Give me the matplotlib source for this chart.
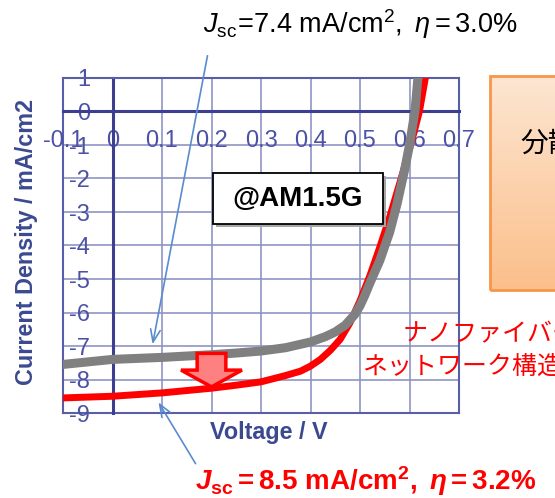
import numpy as np
import matplotlib
matplotlib.use("Agg")
import matplotlib.pyplot as plt
from matplotlib.patches import FancyArrow, Rectangle

# ---- data -------------------------------------------------------------
V_TICKS = [-0.1, 0.0, 0.1, 0.2, 0.3, 0.4, 0.5, 0.6, 0.7]
V_LABELS = ["-0.1", "0", "0.1", "0.2", "0.3", "0.4", "0.5", "0.6", "0.7"]
J_TICKS = [1, 0, -1, -2, -3, -4, -5, -6, -7, -8, -9]
J_LABELS = ["1", "0", "-1", "-2", "-3", "-4", "-5", "-6", "-7", "-8", "-9"]

# nanofiber network electrode (red)
V_NET = [-0.1, 0.0, 0.1, 0.2, 0.25, 0.3, 0.35, 0.38, 0.4, 0.42, 0.44,
         0.46, 0.48, 0.5, 0.52, 0.54, 0.56, 0.575, 0.59, 0.605, 0.62, 0.632]
J_NET = [-8.55, -8.5, -8.4, -8.26, -8.17, -8.07, -7.88, -7.75, -7.6, -7.4,
         -7.13, -6.8, -6.3, -5.65, -4.9, -4.05, -3.15, -2.4, -1.65, -0.85,
         0.0, 1.0]

# dispersed reference electrode (gray)
V_REF = [-0.1, 0.0, 0.1, 0.2, 0.25, 0.3, 0.35, 0.4, 0.43, 0.45, 0.47, 0.49,
         0.5, 0.51, 0.52, 0.54, 0.56, 0.575, 0.59, 0.6, 0.611, 0.617]
J_REF = [-7.55, -7.4, -7.34, -7.26, -7.21, -7.15, -7.05, -6.88, -6.72, -6.58,
         -6.38, -6.05, -5.8, -5.48, -5.12, -4.45, -3.6, -2.75, -1.75, -1.0,
         0.0, 1.0]

JSC_REF, ETA_REF = 7.4, 3.0
JSC_NET, ETA_NET = 8.5, 3.2

# ---- style ------------------------------------------------------------
plt.rcParams["font.family"] = ["Liberation Sans", "Noto Sans CJK JP", "DejaVu Sans"]
plt.rcParams["mathtext.fontset"] = "custom"
plt.rcParams["mathtext.rm"] = "Liberation Sans"
plt.rcParams["mathtext.it"] = "Liberation Sans:italic"
plt.rcParams["mathtext.bf"] = "Liberation Sans:bold"
plt.rcParams["mathtext.bfit"] = "Liberation Sans:italic:bold"

W, H = 555, 498
fig = plt.figure(figsize=(W / 100, H / 100), dpi=100)
fig.patch.set_facecolor("white")


def fx(x):
    return x / W


def fy(y):
    return 1 - y / H


AXIS_C = "#3c3f8f"
FRAME_C = "#5a5ea8"
GRID_C = "#9094c4"
TICK_C = "#4b52a6"
LABEL_C = "#3b4a90"

ax = fig.add_axes([fx(63), fy(413), (459 - 63) / W, (413 - 78) / H])
ax.set_xlim(V_TICKS[0], V_TICKS[-1])
ax.set_ylim(J_TICKS[-1], J_TICKS[0])
ax.set_xticks(V_TICKS)
ax.set_xticklabels(V_LABELS)
ax.set_yticks(J_TICKS)
ax.set_yticklabels(J_LABELS)

# axes cross at the origin, frame on the outside
ax.spines["left"].set_position(("data", 0))
ax.spines["bottom"].set_position(("data", 0))
for s in ("left", "bottom"):
    ax.spines[s].set_linewidth(2.2)
    ax.spines[s].set_color(AXIS_C)
for s in ("top", "right"):
    ax.spines[s].set_linewidth(1.5)
    ax.spines[s].set_color(FRAME_C)
ax.axvline(V_TICKS[0], color=FRAME_C, lw=1.5, clip_on=False, zorder=1.2)
ax.axhline(J_TICKS[-1], color=FRAME_C, lw=1.5, clip_on=False, zorder=1.2)

# grid kept under the tick labels
for v in V_TICKS:
    ax.axvline(v, color=GRID_C, lw=1.2, zorder=0.5)
for j in J_TICKS:
    ax.axhline(j, color=GRID_C, lw=1.2, zorder=0.5)

ax.tick_params(axis="both", length=0, labelsize=17, labelcolor=TICK_C)
ax.tick_params(axis="y", pad=16)
ax.tick_params(axis="x", pad=13.5)

# J-V curves
ax.plot(V_NET, J_NET, color="#ff0000", lw=5, zorder=3,
        solid_joinstyle="round")
ax.plot(V_REF, J_REF, color="#808080", lw=6.5, zorder=4,
        solid_joinstyle="round")

# block arrow: increase of Jsc
ax.add_patch(FancyArrow(0.2, -7.22, 0, -1.0, width=0.058, head_width=0.123,
                        head_length=0.5, length_includes_head=True,
                        facecolor="#ff8080", edgecolor="#ff0000", lw=2.5,
                        zorder=5))

# axis titles
fig.text(fx(269), fy(432), "Voltage / V", ha="center", va="center",
         fontsize=16.8, fontweight="bold", color=LABEL_C)
fig.text(fx(27), fy(242), "Current Density / mA/cm2", ha="center",
         va="center", rotation=90, fontsize=16.8, fontweight="bold",
         color=LABEL_C)

# illumination condition box with shadow
bx0, by0, bx1, by1 = 213, 173, 383, 224
fig.patches.append(Rectangle((fx(bx0 + 3), fy(by1 + 3)), (bx1 - bx0) / W,
                             (by1 - by0) / H, transform=fig.transFigure,
                             facecolor="#a6a6a6", edgecolor="none", zorder=6))
fig.patches.append(Rectangle((fx(bx0), fy(by1)), (bx1 - bx0) / W,
                             (by1 - by0) / H, transform=fig.transFigure,
                             facecolor="white", edgecolor="black", lw=1.3,
                             zorder=7))
fig.text(fx(298), fy(199), "@AM1.5G", ha="center", va="center",
         fontsize=20, fontweight="bold", color="black", zorder=8)

# performance labels with pointers
top_txt = (r"$J_{\mathrm{sc}}\!=\!%.1f\ \mathrm{mA/cm^{2}},\ \eta = %.1f\%%$"
           % (JSC_REF, ETA_REF))
fig.text(fx(203), fy(33), top_txt, ha="left", va="baseline",
         fontsize=19.5, color="black")
bot_txt = (r"$\mathbfit{J}_{\mathbf{sc}}\mathbf{=%.1f\ mA/cm^{2},\ }"
           r"\mathbfit{\eta}\mathbf{=%.1f\%%}$" % (JSC_NET, ETA_NET))
fig.text(fx(195), fy(490), bot_txt, ha="left", va="baseline",
         fontsize=20, color="#ff0000")

ptr = dict(arrowstyle="->,head_length=0.9,head_width=0.35",
           color="#5b8bcf", lw=1.2)
ax.annotate("", xy=(0.08, -7.03), xycoords="data",
            xytext=(fx(208), fy(53)), textcoords="figure fraction",
            arrowprops=ptr, annotation_clip=False, zorder=6)
ax.annotate("", xy=(0.09, -8.61), xycoords="data",
            xytext=(fx(197), fy(466)), textcoords="figure fraction",
            arrowprops=ptr, annotation_clip=False, zorder=6)

# curve caption
fig.text(fx(403), fy(334), "ナノファイバー", ha="left", va="center",
         fontsize=18, color="#ff0000", family=["Noto Sans CJK JP"])
fig.text(fx(362), fy(367), "ネットワーク構造", ha="left", va="center",
         fontsize=18, color="#ff0000", family=["Noto Sans CJK JP"])

# side panel with vertical gradient
pan = fig.add_axes([fx(490), fy(290), 80 / W, (290 - 76) / H])
top_rgb = np.array([0xfd, 0xe6, 0xd2]) / 255
bot_rgb = np.array([0xfb, 0xbf, 0x8a]) / 255
t = np.linspace(0, 1, 256)[:, None]
grad = (top_rgb[None, :] * (1 - t) + bot_rgb[None, :] * t)[:, None, :]
pan.imshow(grad, aspect="auto", extent=[0, 1, 0, 1], origin="upper")
pan.set_xlim(0, 1)
pan.set_ylim(0, 1)
pan.axis("off")
pan.add_patch(Rectangle((0, 0), 1, 1, transform=pan.transAxes, fill=False,
                        edgecolor="#f7964a", lw=2, clip_on=False))
fig.text(fx(520), fy(144), "分散", ha="left", va="center", fontsize=20,
         color="black", family=["Noto Sans CJK JP"])

fig.savefig("out.png", dpi=100)
